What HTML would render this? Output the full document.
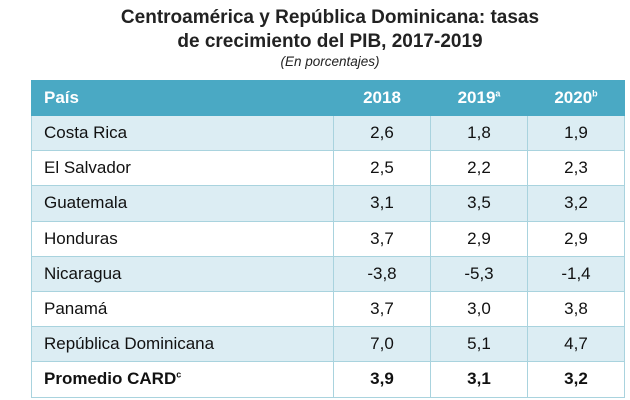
<!DOCTYPE html>
<html><head><meta charset="utf-8"><style>
body{margin:0;width:630px;height:400px;background:#fff;font-family:"Liberation Sans",sans-serif;color:#111;overflow:hidden}
.t{position:absolute;left:0;width:660px;text-align:center;font-weight:bold;font-size:19px;color:#222}
.s{position:absolute;left:0;width:660px;text-align:center;font-style:italic;font-size:13.5px;top:54px;color:#222}
table{position:absolute;left:31px;top:80px;border-collapse:collapse;width:594px;font-size:17px;table-layout:fixed}
td,th{border:1.5px solid #a9d3de;height:35.2px;padding:0;box-sizing:border-box}
th{background:#4aa9c4;color:#fff;font-weight:bold;height:35px;border-color:#4aa9c4;text-align:center}
th.f{text-align:left;padding-left:12px;width:302px}
td{text-align:center}
td.f{padding-left:12px;text-align:left}
tr.a td{background:#dcedf3}
tr.b td{font-weight:bold}
sup{font-size:9px}
</style></head><body>
<div class="t" style="top:7px">Centroamérica y República Dominicana: tasas</div>
<div class="t" style="top:31px">de crecimiento del PIB, 2017-2019</div>
<div class="s">(En porcentajes)</div>
<table>
<tr><th class="f">País</th><th>2018</th><th>2019<sup>a</sup></th><th>2020<sup>b</sup></th></tr>
<tr class="a"><td class="f">Costa Rica</td><td>2,6</td><td>1,8</td><td>1,9</td></tr>
<tr><td class="f">El Salvador</td><td>2,5</td><td>2,2</td><td>2,3</td></tr>
<tr class="a"><td class="f">Guatemala</td><td>3,1</td><td>3,5</td><td>3,2</td></tr>
<tr><td class="f">Honduras</td><td>3,7</td><td>2,9</td><td>2,9</td></tr>
<tr class="a"><td class="f">Nicaragua</td><td>-3,8</td><td>-5,3</td><td>-1,4</td></tr>
<tr><td class="f">Panamá</td><td>3,7</td><td>3,0</td><td>3,8</td></tr>
<tr class="a"><td class="f">República Dominicana</td><td>7,0</td><td>5,1</td><td>4,7</td></tr>
<tr class="b"><td class="f">Promedio CARD<sup>c</sup></td><td>3,9</td><td>3,1</td><td>3,2</td></tr>
</table>
</body></html>
